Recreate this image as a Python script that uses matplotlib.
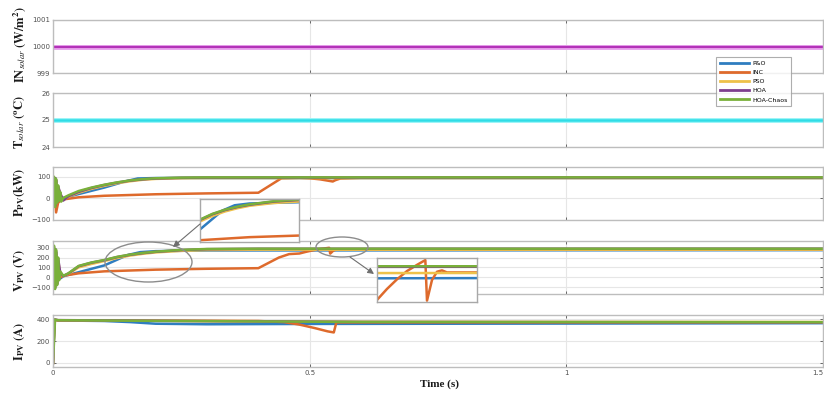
import matplotlib
matplotlib.use("Agg")
import matplotlib.pyplot as plt
from matplotlib.patches import Ellipse, FancyArrowPatch

# ---------------- data ----------------
methods = ["P&O", "INC", "PSO", "HOA", "HOA-Chaos"]
colors = ["#2F7DC0", "#DE6A2C", "#EEC24A", "#7E3F8E", "#79B03A"]

t_env = [0.0, 1.5]
irradiance = [1000, 1000]
temperature = [25, 25]

# PV power (kW)
t_p_po = [0, 0.003, 0.006, 0.01, 0.015, 0.02, 0.05, 0.1, 0.14, 0.165, 0.2, 1.5]
p_po = [0, 60, -20, 20, -5, 2, 20, 50, 78, 92, 94, 94]
t_p_inc = [0, 0.003, 0.006, 0.01, 0.015, 0.02, 0.05, 0.1, 0.2, 0.3, 0.4, 0.445, 0.48, 0.5, 0.52, 0.535, 0.545, 0.55, 0.56, 0.6, 1.5]
p_inc = [0, 40, -65, -20, -10, -5, 5, 12, 19, 23, 26, 93, 95, 93, 88, 82, 78, 84, 92, 95, 95]
t_p_pso = [0, 0.002, 0.004, 0.006, 0.008, 0.01, 0.014, 0.02, 0.03, 0.05, 0.075, 0.1, 0.125, 0.15, 0.175, 0.2, 0.25, 0.3, 1.5]
p_pso = [0, 90, -30, 80, -15, 50, 20, -8, 8, 26, 44, 58, 70, 79, 86, 90, 93, 94, 94]
t_p_hoa = [0, 0.002, 0.004, 0.006, 0.008, 0.01, 0.014, 0.02, 0.03, 0.05, 0.075, 0.1, 0.125, 0.15, 0.175, 0.2, 0.25, 0.3, 1.5]
p_hoa = [0, 95, -35, 85, -18, 55, 25, -10, 10, 30, 48, 62, 73, 82, 88, 92, 95, 96, 96]
t_p_hc = [0, 0.002, 0.004, 0.006, 0.008, 0.01, 0.012, 0.014, 0.016, 0.02, 0.03, 0.05, 0.075, 0.1, 0.125, 0.15, 0.175, 0.2, 0.25, 0.3, 1.5]
p_hc = [0, 100, -40, 90, -20, 60, -10, 30, -15, 2, 14, 34, 50, 63, 74, 83, 89, 93, 96, 97, 97]

# PV voltage (V)
t_v_po = [0, 0.003, 0.006, 0.01, 0.015, 0.02, 0.06, 0.1, 0.145, 0.17, 0.2, 0.3, 1.5]
v_po = [0, 180, -80, 60, -10, 10, 65, 120, 225, 255, 265, 272, 275]
t_v_inc = [0, 0.003, 0.006, 0.01, 0.015, 0.02, 0.05, 0.1, 0.2, 0.3, 0.4, 0.44, 0.46, 0.48, 0.492, 0.504,
           0.516, 0.528, 0.538, 0.54, 0.546, 0.552, 0.558, 0.564, 0.6, 1.5]
v_inc = [0, 150, -60, 40, 0, 15, 40, 60, 77, 86, 92, 200, 235, 241, 257, 271,
         283, 292, 299, 240, 270, 282, 284, 281, 281, 281]
t_v_pso = [0, 0.002, 0.004, 0.006, 0.008, 0.01, 0.014, 0.02, 0.03, 0.05, 0.075, 0.1, 0.125, 0.15, 0.175, 0.2, 0.25, 0.3, 0.4, 1.5]
v_pso = [0, 280, -90, 240, -60, 170, 40, 10, 35, 100, 135, 165, 195, 220, 238, 252, 268, 276, 280, 281]
t_v_hoa = [0, 0.002, 0.004, 0.006, 0.008, 0.01, 0.014, 0.02, 0.03, 0.05, 0.075, 0.1, 0.125, 0.15, 0.175, 0.2, 0.25, 0.3, 0.4, 1.5]
v_hoa = [0, 300, -100, 260, -70, 190, 50, 12, 38, 112, 148, 173, 205, 228, 245, 258, 276, 285, 289, 290]
t_v_hc = [0, 0.002, 0.004, 0.006, 0.008, 0.01, 0.012, 0.014, 0.02, 0.03, 0.05, 0.075, 0.1, 0.125, 0.15, 0.175, 0.2, 0.25, 0.3, 0.4, 1.5]
v_hc = [0, 320, -120, 280, -80, 200, -30, 60, 15, 40, 115, 150, 175, 207, 230, 247, 260, 278, 287, 290, 290]

# PV current (A)
t_i_po = [0, 0.003, 0.01, 0.1, 0.15, 0.2, 0.3, 0.5, 1.5]
i_po = [0, 395, 390, 385, 375, 360, 355, 358, 365]
t_i_inc = [0, 0.003, 0.01, 0.4, 0.45, 0.48, 0.51, 0.535, 0.547, 0.552, 0.6, 1.5]
i_inc = [0, 395, 390, 385, 375, 352, 320, 290, 280, 372, 372, 372]
t_i_pso = [0, 0.003, 0.01, 0.2, 0.6, 1.5]
i_pso = [0, 395, 392, 388, 378, 376]
t_i_hoa = [0, 0.003, 0.01, 0.2, 0.6, 1.5]
i_hoa = [0, 398, 393, 387, 376, 373]
t_i_hc = [0, 0.002, 0.004, 0.01, 0.2, 0.6, 1.5]
i_hc = [0, 200, 398, 392, 386, 376, 374]

power = [(t_p_po, p_po), (t_p_inc, p_inc), (t_p_pso, p_pso), (t_p_hoa, p_hoa), (t_p_hc, p_hc)]
voltage = [(t_v_po, v_po), (t_v_inc, v_inc), (t_v_pso, v_pso), (t_v_hoa, v_hoa), (t_v_hc, v_hc)]
current = [(t_i_po, i_po), (t_i_inc, i_inc), (t_i_pso, i_pso), (t_i_hoa, i_hoa), (t_i_hc, i_hc)]

x_ticks = [0, 0.5, 1, 1.5]
x_tick_labels = ["0", "0.5", "1", "1.5"]

# ---------------- figure ----------------
plt.rcParams["mathtext.fontset"] = "stix"
W, H = 824, 394
fig = plt.figure(figsize=(W / 100, H / 100), dpi=100)

FRAME = "#BDBDBD"
GRID = "#E6E6E6"
TICKC = "#505050"


def px_axes(left, top, right, bottom):
    return fig.add_axes([left / W, 1 - bottom / H, (right - left) / W, (bottom - top) / H])


def style(ax, ylim, yticks, last=False):
    ax.set_xlim(0, 1.5)
    ax.set_ylim(*ylim)
    ax.set_yticks(yticks)
    ax.set_xticks(x_ticks)
    ax.grid(True, color=GRID, linewidth=0.8)
    ax.set_axisbelow(True)
    for s in ax.spines.values():
        s.set_color(FRAME)
        s.set_linewidth(1.0)
    ax.tick_params(direction="in", length=2.5, width=0.6, colors=TICKC,
                   labelsize=5, pad=2, top=True, right=True)
    if last:
        ax.set_xticklabels(x_tick_labels)
        ax.get_xticklabels()[-1].set_horizontalalignment("right")
    else:
        ax.set_xticklabels([])


L, R = 53, 823
ax1 = px_axes(L, 20, R, 73)
ax2 = px_axes(L, 93, R, 147)
ax3 = px_axes(L, 167, R, 220)
ax4 = px_axes(L, 241, R, 294)
ax5 = px_axes(L, 315, R, 367)

ax1.plot(t_env, irradiance, color="#E9A6EE", linewidth=3.6, solid_capstyle="butt")
ax1.plot(t_env, irradiance, color="#B332B8", linewidth=1.6, solid_capstyle="butt")
style(ax1, (999, 1001), [999, 1000, 1001])

ax2.plot(t_env, temperature, color="#9EF4F7", linewidth=3.6, solid_capstyle="butt")
ax2.plot(t_env, temperature, color="#2FDDE6", linewidth=1.8, solid_capstyle="butt")
style(ax2, (24, 26), [24, 25, 26])

handles = []
for (t, v), c, m in zip(power, colors, methods):
    h, = ax3.plot(t, v, color=c, linewidth=1.8, label=m)
    handles.append(h)
style(ax3, (-100, 145), [-100, 0, 100])

for (t, v), c in zip(voltage, colors):
    ax4.plot(t, v, color=c, linewidth=1.8)
style(ax4, (-170, 368), [-100, 0, 100, 200, 300])

for (t, v), c in zip(current, colors):
    ax5.plot(t, v, color=c, linewidth=1.8)
style(ax5, (-37, 440), [0, 200, 400], last=True)

# zoomed views of the voltage traces
ins1 = px_axes(200, 199, 299, 242)
ins2 = px_axes(377, 258, 477, 302)
for ins, xl, yl in [(ins1, (0.1, 0.3), (50, 290)), (ins2, (0.48, 0.6), (238, 302))]:
    for (t, v), c in zip(voltage, colors):
        ins.plot(t, v, color=c, linewidth=1.8)
    ins.set_xlim(*xl)
    ins.set_ylim(*yl)
    ins.set_xticks([])
    ins.set_yticks([])
    ins.set_facecolor("white")
    for s in ins.spines.values():
        s.set_color("#A8A8A8")
        s.set_linewidth(1.0)

# highlight ellipses and pointers
for cx, cy, w, h in [(148.5, 262, 87, 40), (342, 247, 52, 20)]:
    fig.add_artist(Ellipse((cx / W, 1 - cy / H), w / W, h / H, transform=fig.transFigure,
                           fill=False, edgecolor="#8C8C8C", linewidth=1.0, zorder=10))

for (x0, y0), (x1, y1) in [((200, 224), (173, 247)), ((350, 257), (374, 274))]:
    fig.add_artist(FancyArrowPatch((x0 / W, 1 - y0 / H), (x1 / W, 1 - y1 / H),
                                   transform=fig.transFigure, arrowstyle="-|>",
                                   mutation_scale=9, color="#6E6E6E", linewidth=0.8,
                                   shrinkA=0, shrinkB=0, zorder=11))

# legend
leg = fig.legend(handles, methods, loc="upper left",
                 bbox_to_anchor=(716 / W, 1 - 57 / H), fontsize=4.5,
                 frameon=True, fancybox=False, handlelength=4.6, handletextpad=0.6,
                 borderpad=0.6, labelspacing=0.6, borderaxespad=0)
leg.get_frame().set_edgecolor("#9A9A9A")
leg.get_frame().set_linewidth(0.8)
for line in leg.get_lines():
    line.set_linewidth(2.0)

# axis labels
lab = dict(rotation=90, ha="center", va="center", fontsize=9, fontweight="bold",
           family="Liberation Serif", color="#1A1A1A")
fig.text(20 / W, 1 - 44 / H, r"$\mathbf{IN}_{\mathit{solar}}$ $\mathbf{(W/m^{2})}$", **lab)
fig.text(20 / W, 1 - 122 / H, r"$\mathbf{T}_{\mathit{solar}}$ $\mathbf{(^{o}C)}$", **lab)
fig.text(20 / W, 1 - 192 / H, r"$\mathbf{P_{PV}}$$\mathbf{(kW)}$", **lab)
fig.text(20 / W, 1 - 270 / H, r"$\mathbf{V_{PV}}$ $\mathbf{(V)}$", **lab)
fig.text(20 / W, 1 - 341 / H, r"$\mathbf{I_{PV}}$ $\mathbf{(A)}$", **lab)
fig.text(440 / W, 1 - 384 / H, "Time (s)", ha="center", va="center", fontsize=8,
         fontweight="bold", family="Liberation Serif", color="#1A1A1A")

fig.savefig("out.png", dpi=100)
